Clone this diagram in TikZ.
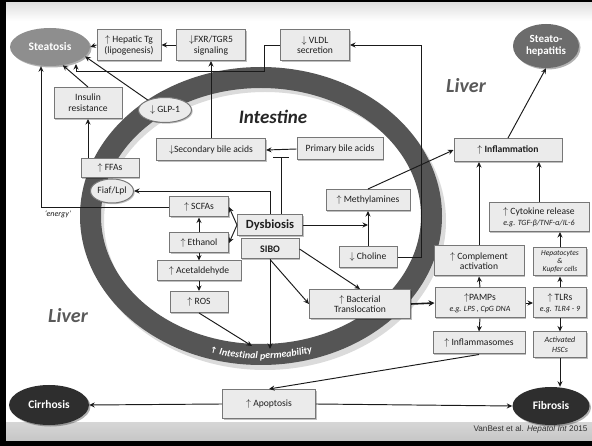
\documentclass[tikz,border=0pt]{standalone}
\usepackage{fontspec}
\setmainfont{Carlito}
\newfontfamily\citefont{Liberation Sans}
\newfontfamily\arrfont{DejaVu Sans}
\usetikzlibrary{arrows.meta,shapes.geometric,shadows,decorations.text,calc}
\definecolor{boxfill}{HTML}{EBEBEB}
\definecolor{boxline}{HTML}{777777}
\definecolor{linec}{HTML}{1A1A1A}
\definecolor{ringc}{HTML}{555555}
\definecolor{txtc}{HTML}{1E1E1E}
\definecolor{liverc}{HTML}{595959}
\definecolor{steac}{HTML}{8E8E8E}
\definecolor{stehc}{HTML}{6C6C6C}
\definecolor{darkc}{HTML}{2E2E2E}
\newcommand{\uar}{$\uparrow$}
\newcommand{\dar}{$\downarrow$}
\newcommand{\bxfont}{\fontsize{9.6}{10.8}\selectfont}
\newcommand{\egfont}{\itshape\fontsize{8}{9.5}\selectfont}
\begin{document}
\begin{tikzpicture}[x=1pt,y=-1pt,
  bx/.style={draw=boxline, fill=boxfill, line width=1pt, align=center, inner sep=1pt,
    text=txtc, font=\bxfont,
    drop shadow={shadow xshift=1.2pt, shadow yshift=-1.2pt, opacity=0.25, fill=black}},
  oval/.style={ellipse, inner sep=0pt, align=center, font=\bfseries\fontsize{11.5}{12.5}\selectfont, text=white,
    drop shadow={shadow xshift=1.5pt, shadow yshift=-1.5pt, opacity=0.3, fill=black}},
  lightoval/.style={ellipse, draw=boxline, fill=boxfill, line width=1pt, inner sep=0pt, text=txtc, font=\bxfont,
    drop shadow={shadow xshift=1.2pt, shadow yshift=-1.2pt, opacity=0.25, fill=black}},
  ar/.style={draw=linec, line width=0.95pt, -{Stealth[length=5.5pt,width=5pt]}},
  ln/.style={draw=linec, line width=0.95pt},
  region/.style={font=\bfseries\itshape\fontsize{20}{22}\selectfont, text=liverc}
]
\useasboundingbox (0,0) rectangle (592,446);
% frame and bands
\fill[black] (0,0) rectangle (592,446);
\fill[white] (6,3) rectangle (592,440);
\shade[top color=black!12, bottom color=white] (6,3) rectangle (592,21);
\shade[top color=black!16, bottom color=black!22] (6,422) rectangle (592,440);

% intestine ring
\fill[black!14, even odd rule] (265,221) ellipse [x radius=181, y radius=149] (265,221) ellipse [x radius=161, y radius=129];
\fill[ringc, even odd rule] (261,216) ellipse [x radius=181, y radius=149] (261,216) ellipse [x radius=160, y radius=128];
\path[decorate, decoration={text along path, text color=white, text align=center,
   text={|\arrfont\bfseries\itshape\fontsize{8.5}{9}\selectfont|↑|\bfseries\itshape\fontsize{10}{11}\selectfont| Intestinal permeability}}]
   (261,216) ++(124:174 and 143) arc [start angle=124, end angle=56, x radius=174, y radius=143];

% region labels
\node[region] (liver1) at (466,86) {Liver};
\node[region] (liver2) at (68,316) {Liver};
\node[font=\bfseries\itshape\fontsize{19}{21}\selectfont, text=black!85] (intest) at (273,117) {Intestine};

% outcome ovals
\node[oval, fill=steac, minimum width=80pt, minimum height=38pt] (stea) at (50,47) {Steatosis};
\node[oval, fill=stehc, minimum width=66pt, minimum height=44pt, font=\bfseries\fontsize{11}{12.5}\selectfont] (steh) at (546,46) {Steato-\\hepatitis};
\node[oval, fill=darkc, minimum width=80pt, minimum height=40pt] (cirr) at (49,405) {Cirrhosis};
\node[oval, fill=darkc, minimum width=77pt, minimum height=38pt] (fib) at (551,406) {Fibrosis};

% boxes
\node[bx, minimum width=64pt, minimum height=31pt] (hep) at (129,45) {\uar{} Hepatic Tg\\(lipogenesis)};
\node[bx, minimum width=69pt, minimum height=31pt] (fxr) at (211,45) {\dar FXR/TGR5\\signaling};
\node[bx, minimum width=69pt, minimum height=31pt] (vldl) at (315,45) {\dar{} VLDL\\secretion};
\node[bx, minimum width=68pt, minimum height=31pt] (ir) at (88,103) {Insulin\\resistance};
\node[lightoval, minimum width=53pt, minimum height=25pt] (glp) at (165,110) {\dar{} GLP-1};
\node[bx, minimum width=109pt, minimum height=22pt] (sba) at (211,150) {\dar Secondary bile acids};
\node[bx, minimum width=86pt, minimum height=22pt] (pba) at (340,149) {Primary bile acids};
\node[bx, minimum width=108pt, minimum height=23pt, font=\bfseries\bxfont] (infl) at (508,150) {\uar{} Inflammation};
\node[bx, minimum width=58pt, minimum height=19pt] (ffa) at (110,168) {\uar{} FFAs};
\node[lightoval, minimum width=43pt, minimum height=24pt] (fiaf) at (112,191) {Fiaf/Lpl};
\node[bx, minimum width=59pt, minimum height=20pt] (scfa) at (199,207) {\uar{} SCFAs};
\node[bx, minimum width=65pt, minimum height=21pt, font=\bfseries\fontsize{12.5}{14}\selectfont] (dys) at (270,225) {Dysbiosis};
\node[bx, minimum width=58pt, minimum height=20pt, font=\bfseries\fontsize{10}{11}\selectfont] (sibo) at (270,249) {SIBO};
\node[bx, minimum width=59pt, minimum height=20pt] (eth) at (199,243) {\uar{} Ethanol};
\node[bx, minimum width=84pt, minimum height=20pt] (acet) at (199,271) {\uar{} Acetaldehyde};
\node[bx, minimum width=58pt, minimum height=21pt] (ros) at (199,302) {\uar{} ROS};
\node[bx, minimum width=84pt, minimum height=21pt] (meth) at (368,200) {\uar{} Methylamines};
\node[bx, minimum width=58pt, minimum height=21pt] (chol) at (368,257) {\dar{} Choline};
\node[bx, minimum width=90pt, minimum height=30pt] (comp) at (479,261) {\uar{} Complement\\activation};
\node[bx, minimum width=100pt, minimum height=29pt] (cyto) at (539,217) {\uar{} Cytokine release\\{\egfont e.g. TGF-β/TNF-α/IL-6}};
\node[bx, minimum width=53pt, minimum height=28pt, font=\itshape\fontsize{7.5}{8}\selectfont] (hepk) at (560,262) {Hepatocytes\\\&\\Kupfer cells};
\node[bx, minimum width=53pt, minimum height=30pt] (tlr) at (560,303) {\uar{} TLRs\\{\egfont e.g. TLR4 - 9}};
\node[bx, minimum width=53pt, minimum height=26pt, font=\itshape\fontsize{8}{9.5}\selectfont] (hsc) at (560,345) {Activated\\HSCs};
\node[bx, minimum width=90pt, minimum height=30pt] (pamp) at (480,303) {\uar PAMPs\\{\egfont e.g. LPS , CpG DNA}};
\node[bx, minimum width=92pt, minimum height=22pt] (inflm) at (479,343) {\uar{} Inflammasomes};
\node[bx, minimum width=101pt, minimum height=29pt] (bt) at (360,304) {\uar{} Bacterial\\Translocation};
\node[bx, minimum width=93pt, minimum height=29pt] (apo) at (269,404) {\uar{} Apoptosis};

\node[font=\itshape\fontsize{8}{9}\selectfont, text=txtc] (energy) at (58,214) {`energy'};
\node[font=\citefont\fontsize{8.2}{9}\selectfont, anchor=east, text=black!80] (cite) at (591,429) {VanBest et al. \textit{Hepatol Int} 2015};

\coordinate (perm1) at (252,346);
\coordinate (perm2) at (270,349);

% connectors
\draw[ar] (hep.west) -- (stea.east);
\draw[ar] (fxr.west) -- (hep.east);
\draw[ar] (vldl.west) -- ++(-16,0) -- ++(0,26) -| ($(stea.center)+(26,17)$);
\draw[ar] (ir.north) -- (stea.-55);
\draw[ar] (glp.150) -- (stea.-15);
\draw[ar] (sba.north) -- (fxr.south);
\draw[ar] (pba.west) -- (sba.east);
\draw[ln, -{Bar[width=16pt]}] ($(dys.north)+(11,0)$) -- ++(0,-57);
\draw[ar] (ir.south |- ffa.north) -- (ir.south);
\draw[ar] (scfa.west) -| ($(stea.south)+(-9,0)$);
\draw[ar] (dys.north) |- (fiaf.east);
\draw[ar] (dys.west) -- (scfa.east);
\draw[ar] (dys.west) -- (eth.east);
\draw[ar] (eth.north) -- (scfa.south);
\draw[ar] (eth.south) -- (acet.north);
\draw[ar] (acet.south) -- (ros.north);
\draw[ar] (ros.south) -- (perm1);
\draw[ar] (sibo.south) -- (perm2);
\draw[ar] (sibo.south) -- (bt.west);
\draw[ar] (sibo.east) -- (bt.north);
\draw[ar] (dys.east) -- (dys.east -| meth.south);
\draw[ar] (chol.north) -- (meth.south);
\draw[ar] (chol.east) -- ++(24,0) |- (vldl.east);
\draw[ar] (meth.north) -- (infl.west);
\draw[draw=linec, line width=1.6pt, -{Stealth[length=6pt,width=6pt]}] (bt.east) -- (pamp.west);
\draw[ar] (pamp.north) -- (comp.south);
\draw[ar] (pamp.south) -- (inflm.north);
\draw[ar] (pamp.east) -- (tlr.west);
\draw[ar] (comp.north) -- (comp.north |- infl.south);
\draw[ar] (tlr.north) -- (hepk.south);
\draw[ar] (hepk.north) -- (hepk.north |- cyto.south);
\draw[ar] (cyto.north) -- (cyto.north |- infl.south);
\draw[ar] (tlr.south) -- (hsc.north);
\draw[ar] (hsc.south) -- (hsc.south |- fib.north);
\draw[ar] (infl.north) -- (steh.south);
\draw[ar] (inflm.south) -- (apo.north);
\draw[ar] (apo.west) -- (cirr.east);
\draw[ar] (apo.east) -- (fib.west);
\end{tikzpicture}
\end{document}
